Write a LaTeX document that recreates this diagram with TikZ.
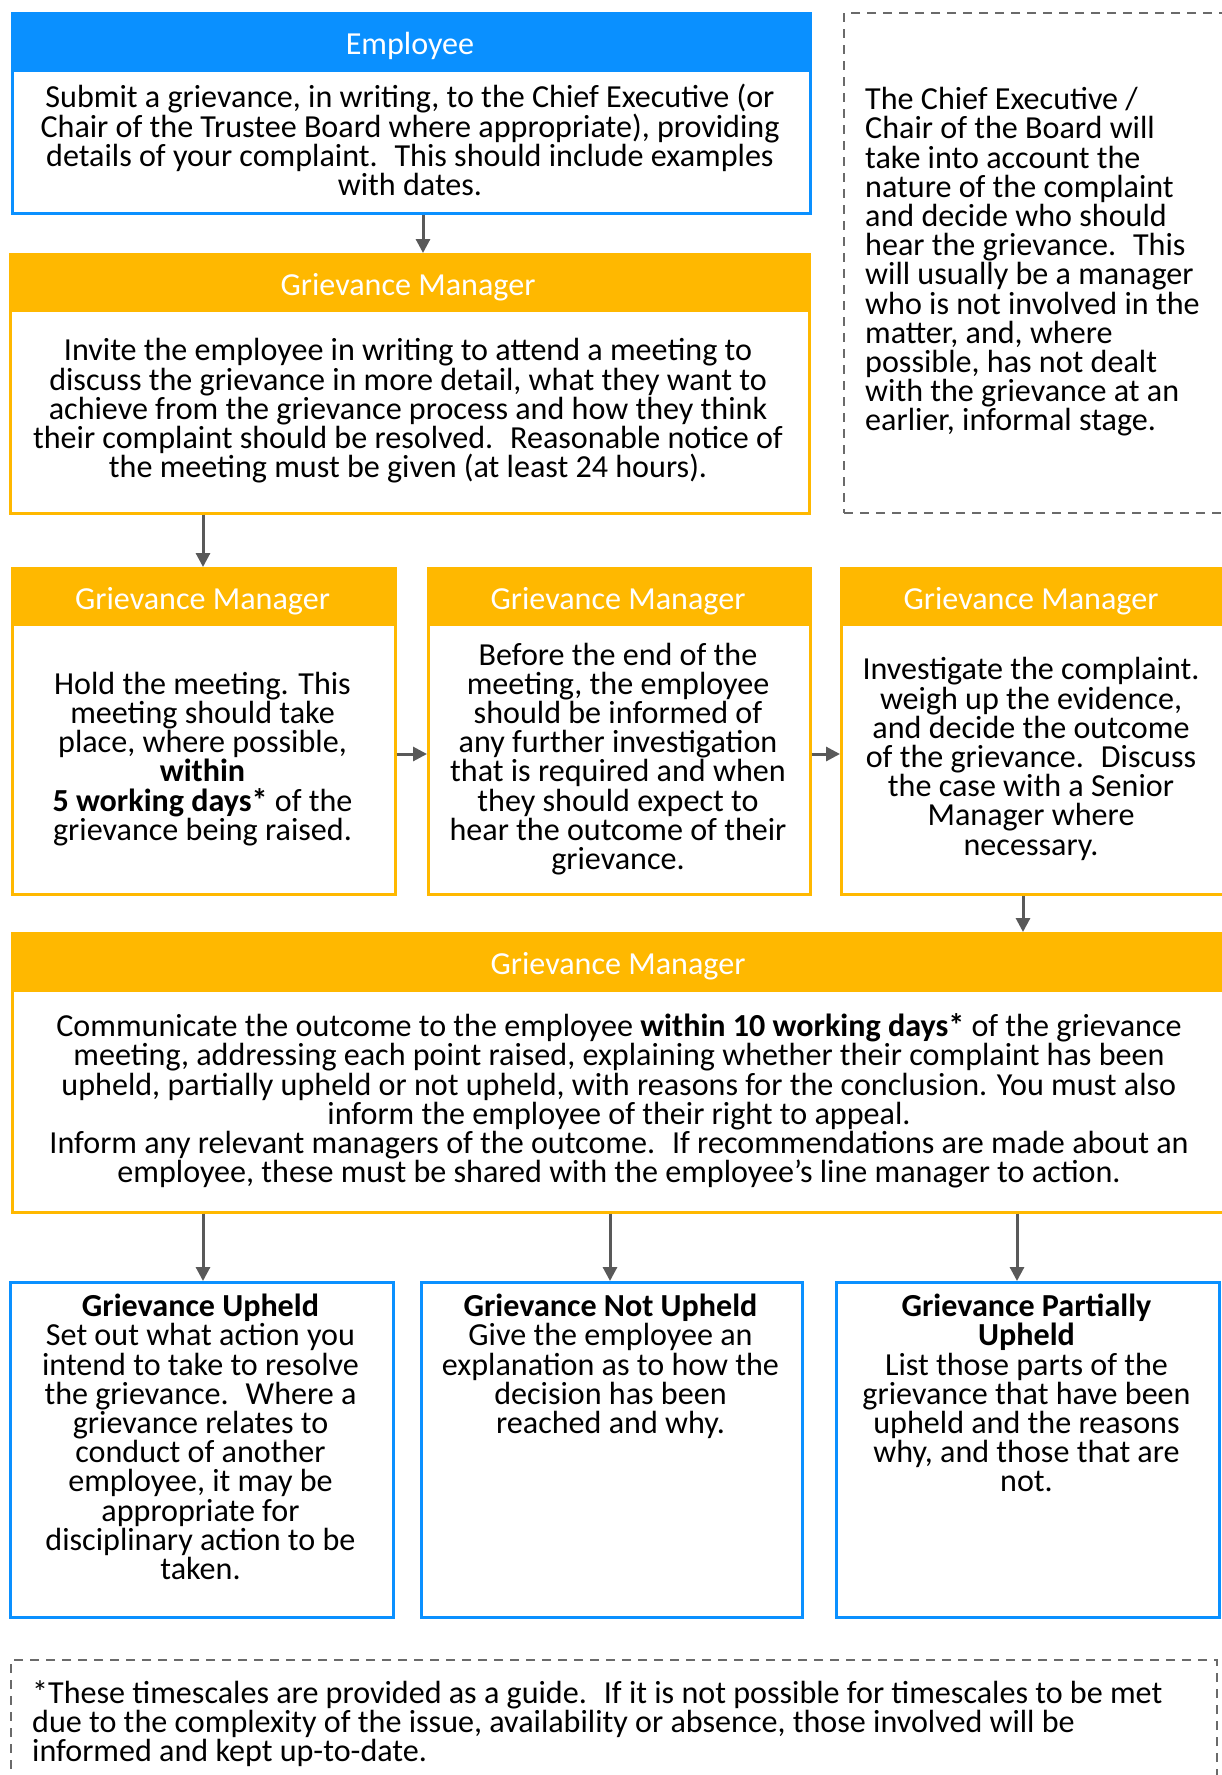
\documentclass[tikz,border=0pt]{standalone}
\usepackage{fontspec}
\setmainfont{Carlito}
\usetikzlibrary{arrows.meta,calc}
\definecolor{cblue}{HTML}{0A90FF}
\definecolor{corange}{HTML}{FFB800}
\definecolor{carrow}{HTML}{595959}
\definecolor{cdash}{HTML}{6A6A6A}
\newcommand{\bfnt}{\fontsize{32.1}{29.2}\selectfont}
\tikzset{
  frameb/.style={draw=cblue, line width=2.5pt, anchor=north west, inner sep=0pt, fill=white},
  frameo/.style={draw=corange, line width=2.5pt, anchor=north west, inner sep=0pt, fill=white},
  hdrb/.style={fill=cblue, anchor=north west, inner sep=0pt},
  hdro/.style={fill=corange, anchor=north west, inner sep=0pt},
  htext/.style={text=white, font=\bfnt, inner sep=0pt},
  btext/.style={font=\bfnt, align=center, inner sep=0pt},
  ltext/.style={font=\bfnt, align=left, inner sep=0pt},
  dashbox/.style={draw=cdash, line width=2pt, dash pattern=on 9pt off 7pt, anchor=north west, inner sep=0pt},
  arr/.style={draw=carrow, line width=3pt, -{Triangle[length=14pt,width=14pt]}}
}
\begin{document}
\begin{tikzpicture}[x=1pt,y=-1pt]
\useasboundingbox (0,0) rectangle (1221,1775);
% Employee
\node[frameb, minimum width=798pt, minimum height=200pt] (empF) at (11,12) {};
\node[hdrb, minimum width=798pt, minimum height=60pt] (empH) at (11,12) {};
\node[htext] (empHT) at (410,46) {Employee};
\node[btext] (empT) at (410,140) {Submit a grievance, in writing, to the Chief Executive (or\\
Chair of the Trustee Board where appropriate), providing\\
details of your complaint.~ This should include examples\\
with dates.};
% dashed note
\node[dashbox, minimum width=390pt, minimum height=500pt] (noteF) at (843,12) {};
\node[ltext, anchor=west] (noteT) at (865,262) {The Chief Executive /\\ Chair of the Board will\\ take into account the\\ nature of the complaint\\ and decide who should\\ hear the grievance.~ This\\ will usually be a manager\\ who is not involved in the\\ matter, and, where\\ possible, has not dealt\\ with the grievance at an\\ earlier, informal stage.};
% GM1
\node[frameo, minimum width=799pt, minimum height=259pt] (gm1F) at (9,253) {};
\node[hdro, minimum width=799pt, minimum height=59pt] (gm1H) at (9,253) {};
\node[htext] (gm1HT) at (408,287) {Grievance Manager};
\node[btext] (gm1T) at (408,411) {Invite the employee in writing to attend a meeting to\\
discuss the grievance in more detail, what they want to\\
achieve from the grievance process and how they think\\
their complaint should be resolved.~ Reasonable notice of\\
the meeting must be given (at least 24 hours).};
% Row 2
\node[frameo, minimum width=383pt, minimum height=326pt] (aF) at (11,567) {};
\node[hdro, minimum width=383pt, minimum height=59pt] (aH) at (11,567) {};
\node[htext] (aHT) at (202.5,601) {Grievance Manager};
\node[btext] (aT) at (202.5,759) {Hold the meeting. This\\ meeting should take\\ place, where possible,\\ \textbf{within}\\ \textbf{5 working days*} of the\\ grievance being raised.};

\node[frameo, minimum width=382pt, minimum height=326pt] (bF) at (427,567) {};
\node[hdro, minimum width=382pt, minimum height=59pt] (bH) at (427,567) {};
\node[htext] (bHT) at (618,601) {Grievance Manager};
\node[btext] (bT) at (618,759) {Before the end of the\\ meeting, the employee\\ should be informed of\\ any further investigation\\ that is required and when\\ they should expect to\\ hear the outcome of their\\ grievance.};

\node[frameo, minimum width=390pt, minimum height=326pt] (cF) at (840,567) {};
\node[hdro, minimum width=390pt, minimum height=59pt] (cH) at (840,567) {};
\node[htext] (cHT) at (1031,601) {Grievance Manager};
\node[btext] (cT) at (1031,759) {Investigate the complaint.\\ weigh up the evidence,\\ and decide the outcome\\ of the grievance.~ Discuss\\ the case with a Senior\\ Manager where\\ necessary.};
% GM4
\node[frameo, minimum width=1219pt, minimum height=279pt] (gm4F) at (11,932) {};
\node[hdro, minimum width=1219pt, minimum height=60pt] (gm4H) at (11,932) {};
\node[htext] (gm4HT) at (618,966) {Grievance Manager};
\node[btext] (gm4T) at (619,1101) {Communicate the outcome to the employee \textbf{within 10 working days*} of the grievance\\
meeting, addressing each point raised, explaining whether their complaint has been\\
upheld, partially upheld or not upheld, with reasons for the conclusion. You must also\\
inform the employee of their right to appeal.\\
Inform any relevant managers of the outcome.~ If recommendations are made about an\\
employee, these must be shared with the employee’s line manager to action.};
% bottom boxes
\node[frameb, minimum width=383pt, minimum height=335pt] (upF) at (9,1281) {};
\node[btext, anchor=north] (upT) at (200.5,1294) {\textbf{Grievance Upheld}\\ Set out what action you\\ intend to take to resolve\\ the grievance.~ Where a\\ grievance relates to\\ conduct of another\\ employee, it may be\\ appropriate for\\ disciplinary action to be\\ taken.};
\node[frameb, minimum width=381pt, minimum height=335pt] (nuF) at (420,1281) {};
\node[btext, anchor=north] (nuT) at (610.5,1294) {\textbf{Grievance Not Upheld}\\ Give the employee an\\ explanation as to how the\\ decision has been\\ reached and why.};
\node[frameb, minimum width=383pt, minimum height=335pt] (puF) at (835,1281) {};
\node[btext, anchor=north] (puT) at (1026.5,1294) {\textbf{Grievance Partially}\\ \textbf{Upheld}\\ List those parts of the\\ grievance that have been\\ upheld and the reasons\\ why, and those that are\\ not.};
% footer
\node[dashbox, minimum width=1206pt, minimum height=160pt] (footF) at (10,1659) {};
\node[ltext, anchor=north west] (footT) at (32,1680) {*These timescales are provided as a guide.~ If it is not possible for timescales to be met\\ due to the complexity of the issue, availability or absence, those involved will be\\ informed and kept up-to-date.};
% arrow x positions
\coordinate (x1) at (423,0);
\coordinate (x2) at (203,0);
\coordinate (x3) at (1023,0);
\coordinate (xa) at (203,0);
\coordinate (xb) at (610,0);
\coordinate (xc) at (1017,0);
\coordinate (yr) at (0,754);
% connectors
\draw[arr] (empF.south -| x1) -- (gm1F.north -| x1);
\draw[arr] (gm1F.south -| x2) -- (aF.north -| x2);
\draw[arr] (aF.east |- yr) -- (bF.west |- yr);
\draw[arr] (bF.east |- yr) -- (cF.west |- yr);
\draw[arr] (cF.south -| x3) -- (gm4F.north -| x3);
\draw[arr] (gm4F.south -| xa) -- (upF.north -| xa);
\draw[arr] (gm4F.south -| xb) -- (nuF.north -| xb);
\draw[arr] (gm4F.south -| xc) -- (puF.north -| xc);
\end{tikzpicture}
\end{document}
